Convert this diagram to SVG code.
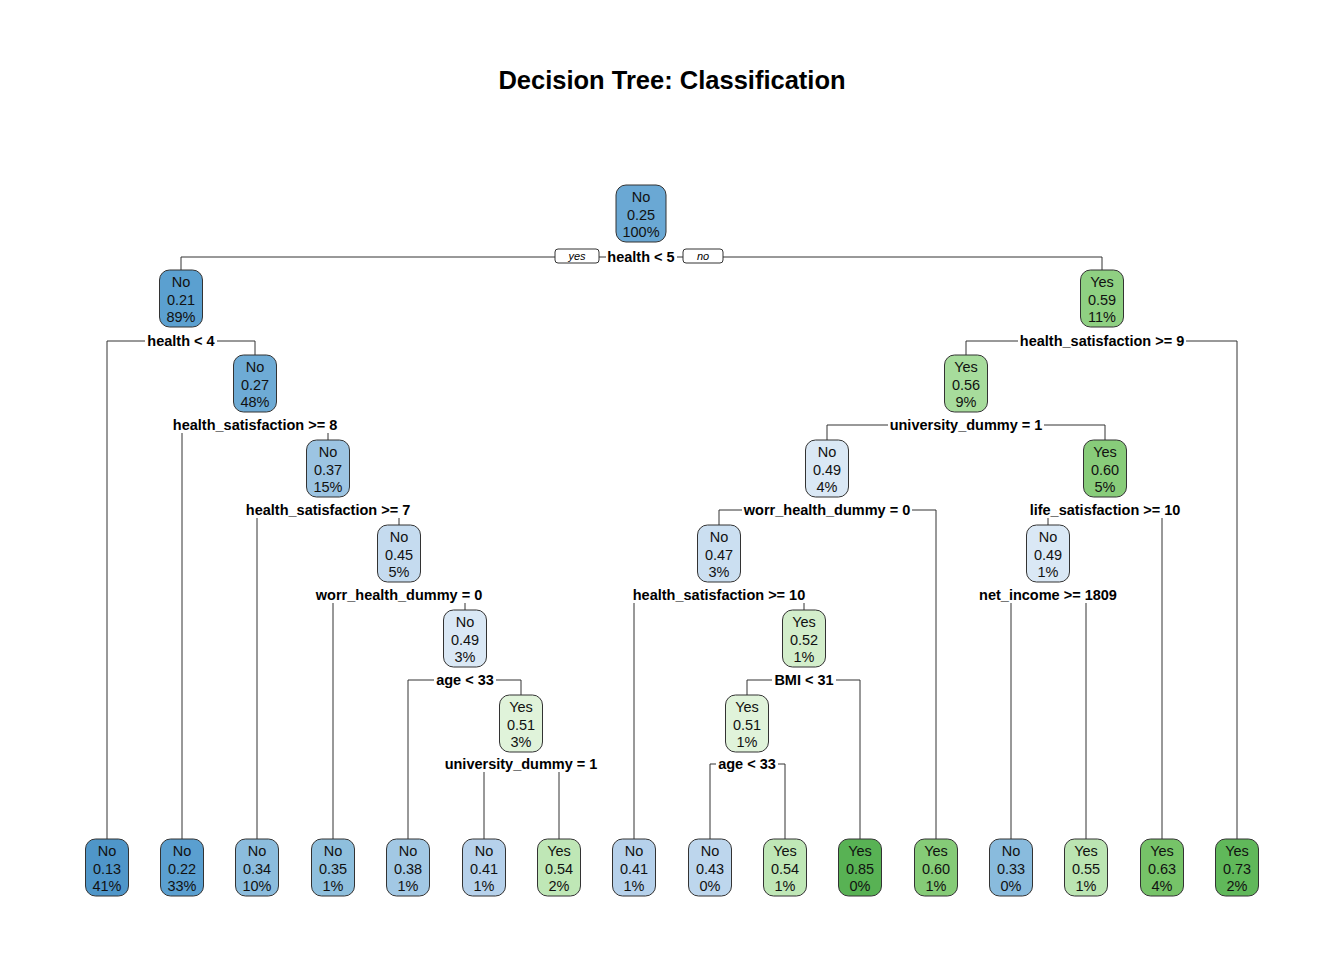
<svg xmlns="http://www.w3.org/2000/svg" width="1344" height="960" viewBox="0 0 1344 960">
<style>
.bg{fill:#ffffff}
.title{font-family:"Liberation Sans",Arial,sans-serif;font-size:25.5px;font-weight:bold;fill:#000;text-anchor:middle}
.box{stroke:#333;stroke-width:1}
.nt{font-family:"Liberation Sans",Arial,sans-serif;font-size:14.5px;fill:#111;text-anchor:middle}
.sl{font-family:"Liberation Sans",Arial,sans-serif;font-size:14.5px;font-weight:bold;fill:#000;text-anchor:middle}
.yn{font-family:"Liberation Sans",Arial,sans-serif;font-size:11px;font-style:italic;fill:#000;text-anchor:middle}
.ynbox{fill:#fff;stroke:#333;stroke-width:1}
.edge{fill:none;stroke:#333;stroke-width:1}
</style>
<rect class="bg" x="0" y="0" width="1344" height="960"/>
<text class="title" x="672" y="89">Decision Tree: Classification</text>

<g id="connectors">
<path class="edge" d="M181,270V257H555M599,257H606M677,257H683M723,257H1102V270"/>
<path class="edge" d="M107,839V341H145M217,341H255V355"/>
<path class="edge" d="M182,433V839M328,433V440"/>
<path class="edge" d="M257,518V839M399,518V525"/>
<path class="edge" d="M333,603V839M465,603V610"/>
<path class="edge" d="M408,839V680H434M496,680H521V695"/>
<path class="edge" d="M484,772V839M559,772V839"/>
<path class="edge" d="M966,355V341H1018M1186,341H1237V839"/>
<path class="edge" d="M827,440V425H888M1044,425H1105V440"/>
<path class="edge" d="M719,525V510H742M912,510H936V839"/>
<path class="edge" d="M634,603V839M804,603V610"/>
<path class="edge" d="M747,695V680H772M836,680H860V839"/>
<path class="edge" d="M710,839V764H716M778,764H785V839"/>
<path class="edge" d="M1048,518V525M1162,518V839"/>
<path class="edge" d="M1011,603V839M1086,603V839"/>
<rect class="ynbox" x="555" y="249" width="44" height="14" rx="3"/>
<text class="yn" x="577" y="260">yes</text>
<rect class="ynbox" x="683" y="249" width="40" height="14" rx="3"/>
<text class="yn" x="703" y="260">no</text>
</g>

<g id="split-labels">
<text class="sl" x="641" y="262">health &lt; 5</text>
<text class="sl" x="181" y="346">health &lt; 4</text>
<text class="sl" x="255" y="430">health_satisfaction &gt;= 8</text>
<text class="sl" x="328" y="515">health_satisfaction &gt;= 7</text>
<text class="sl" x="399" y="600">worr_health_dummy = 0</text>
<text class="sl" x="465" y="685">age &lt; 33</text>
<text class="sl" x="521" y="769">university_dummy = 1</text>
<text class="sl" x="1102" y="346">health_satisfaction &gt;= 9</text>
<text class="sl" x="966" y="430">university_dummy = 1</text>
<text class="sl" x="827" y="515">worr_health_dummy = 0</text>
<text class="sl" x="719" y="600">health_satisfaction &gt;= 10</text>
<text class="sl" x="804" y="685">BMI &lt; 31</text>
<text class="sl" x="747" y="769">age &lt; 33</text>
<text class="sl" x="1105" y="515">life_satisfaction &gt;= 10</text>
<text class="sl" x="1048" y="600">net_income &gt;= 1809</text>
</g>

<g id="node1"><rect class="box" x="616" y="185" width="50" height="57" rx="10" fill="#6aa8d4"/><text class="nt" x="641" y="202">No</text><text class="nt" x="641" y="219.5">0.25</text><text class="nt" x="641" y="237">100%</text></g>
<g id="node2"><rect class="box" x="159.5" y="270" width="43" height="57" rx="10" fill="#5ba0d0"/><text class="nt" x="181" y="287">No</text><text class="nt" x="181" y="304.5">0.21</text><text class="nt" x="181" y="322">89%</text></g>
<g id="node3"><rect class="box" x="1080.5" y="270" width="43" height="57" rx="10" fill="#8fd082"/><text class="nt" x="1102" y="287">Yes</text><text class="nt" x="1102" y="304.5">0.59</text><text class="nt" x="1102" y="322">11%</text></g>
<g id="node4"><rect class="box" x="233.5" y="355" width="43" height="57" rx="10" fill="#6eabd5"/><text class="nt" x="255" y="372">No</text><text class="nt" x="255" y="389.5">0.27</text><text class="nt" x="255" y="407">48%</text></g>
<g id="node5"><rect class="box" x="944.5" y="355" width="43" height="57" rx="10" fill="#a7dc9c"/><text class="nt" x="966" y="372">Yes</text><text class="nt" x="966" y="389.5">0.56</text><text class="nt" x="966" y="407">9%</text></g>
<g id="node6"><rect class="box" x="306.5" y="440" width="43" height="57" rx="10" fill="#9cc4e2"/><text class="nt" x="328" y="457">No</text><text class="nt" x="328" y="474.5">0.37</text><text class="nt" x="328" y="492">15%</text></g>
<g id="node7"><rect class="box" x="805.5" y="440" width="43" height="57" rx="10" fill="#dae8f5"/><text class="nt" x="827" y="457">No</text><text class="nt" x="827" y="474.5">0.49</text><text class="nt" x="827" y="492">4%</text></g>
<g id="node8"><rect class="box" x="1083.5" y="440" width="43" height="57" rx="10" fill="#88cc7a"/><text class="nt" x="1105" y="457">Yes</text><text class="nt" x="1105" y="474.5">0.60</text><text class="nt" x="1105" y="492">5%</text></g>
<g id="node9"><rect class="box" x="377.5" y="525" width="43" height="57" rx="10" fill="#c5dbef"/><text class="nt" x="399" y="542">No</text><text class="nt" x="399" y="559.5">0.45</text><text class="nt" x="399" y="577">5%</text></g>
<g id="node10"><rect class="box" x="697.5" y="525" width="43" height="57" rx="10" fill="#cbdff1"/><text class="nt" x="719" y="542">No</text><text class="nt" x="719" y="559.5">0.47</text><text class="nt" x="719" y="577">3%</text></g>
<g id="node11"><rect class="box" x="1026.5" y="525" width="43" height="57" rx="10" fill="#dae8f5"/><text class="nt" x="1048" y="542">No</text><text class="nt" x="1048" y="559.5">0.49</text><text class="nt" x="1048" y="577">1%</text></g>
<g id="node12"><rect class="box" x="443.5" y="610" width="43" height="57" rx="10" fill="#dae8f5"/><text class="nt" x="465" y="627">No</text><text class="nt" x="465" y="644.5">0.49</text><text class="nt" x="465" y="662">3%</text></g>
<g id="node13"><rect class="box" x="782.5" y="610" width="43" height="57" rx="10" fill="#d3eecb"/><text class="nt" x="804" y="627">Yes</text><text class="nt" x="804" y="644.5">0.52</text><text class="nt" x="804" y="662">1%</text></g>
<g id="node14"><rect class="box" x="499.5" y="695" width="43" height="57" rx="10" fill="#e0f3da"/><text class="nt" x="521" y="712">Yes</text><text class="nt" x="521" y="729.5">0.51</text><text class="nt" x="521" y="747">3%</text></g>
<g id="node15"><rect class="box" x="725.5" y="695" width="43" height="57" rx="10" fill="#e0f3da"/><text class="nt" x="747" y="712">Yes</text><text class="nt" x="747" y="729.5">0.51</text><text class="nt" x="747" y="747">1%</text></g>

<g id="leaf1"><rect class="box" x="85.5" y="839" width="43" height="57" rx="10" fill="#4f96c9"/><text class="nt" x="107" y="856">No</text><text class="nt" x="107" y="873.5">0.13</text><text class="nt" x="107" y="891">41%</text></g>
<g id="leaf2"><rect class="box" x="160.5" y="839" width="43" height="57" rx="10" fill="#5a9fd0"/><text class="nt" x="182" y="856">No</text><text class="nt" x="182" y="873.5">0.22</text><text class="nt" x="182" y="891">33%</text></g>
<g id="leaf3"><rect class="box" x="235.5" y="839" width="43" height="57" rx="10" fill="#8bbcdd"/><text class="nt" x="257" y="856">No</text><text class="nt" x="257" y="873.5">0.34</text><text class="nt" x="257" y="891">10%</text></g>
<g id="leaf4"><rect class="box" x="311.5" y="839" width="43" height="57" rx="10" fill="#8ebfdd"/><text class="nt" x="333" y="856">No</text><text class="nt" x="333" y="873.5">0.35</text><text class="nt" x="333" y="891">1%</text></g>
<g id="leaf5"><rect class="box" x="386.5" y="839" width="43" height="57" rx="10" fill="#a2c8e4"/><text class="nt" x="408" y="856">No</text><text class="nt" x="408" y="873.5">0.38</text><text class="nt" x="408" y="891">1%</text></g>
<g id="leaf6"><rect class="box" x="462.5" y="839" width="43" height="57" rx="10" fill="#b6d1eb"/><text class="nt" x="484" y="856">No</text><text class="nt" x="484" y="873.5">0.41</text><text class="nt" x="484" y="891">1%</text></g>
<g id="leaf7"><rect class="box" x="537.5" y="839" width="43" height="57" rx="10" fill="#bfe7b6"/><text class="nt" x="559" y="856">Yes</text><text class="nt" x="559" y="873.5">0.54</text><text class="nt" x="559" y="891">2%</text></g>
<g id="leaf8"><rect class="box" x="612.5" y="839" width="43" height="57" rx="10" fill="#b6d1eb"/><text class="nt" x="634" y="856">No</text><text class="nt" x="634" y="873.5">0.41</text><text class="nt" x="634" y="891">1%</text></g>
<g id="leaf9"><rect class="box" x="688.5" y="839" width="43" height="57" rx="10" fill="#bdd6ed"/><text class="nt" x="710" y="856">No</text><text class="nt" x="710" y="873.5">0.43</text><text class="nt" x="710" y="891">0%</text></g>
<g id="leaf10"><rect class="box" x="763.5" y="839" width="43" height="57" rx="10" fill="#bfe7b6"/><text class="nt" x="785" y="856">Yes</text><text class="nt" x="785" y="873.5">0.54</text><text class="nt" x="785" y="891">1%</text></g>
<g id="leaf11"><rect class="box" x="838.5" y="839" width="43" height="57" rx="10" fill="#58b254"/><text class="nt" x="860" y="856">Yes</text><text class="nt" x="860" y="873.5">0.85</text><text class="nt" x="860" y="891">0%</text></g>
<g id="leaf12"><rect class="box" x="914.5" y="839" width="43" height="57" rx="10" fill="#85cb77"/><text class="nt" x="936" y="856">Yes</text><text class="nt" x="936" y="873.5">0.60</text><text class="nt" x="936" y="891">1%</text></g>
<g id="leaf13"><rect class="box" x="989.5" y="839" width="43" height="57" rx="10" fill="#89bbdd"/><text class="nt" x="1011" y="856">No</text><text class="nt" x="1011" y="873.5">0.33</text><text class="nt" x="1011" y="891">0%</text></g>
<g id="leaf14"><rect class="box" x="1064.5" y="839" width="43" height="57" rx="10" fill="#bbe5b2"/><text class="nt" x="1086" y="856">Yes</text><text class="nt" x="1086" y="873.5">0.55</text><text class="nt" x="1086" y="891">1%</text></g>
<g id="leaf15"><rect class="box" x="1140.5" y="839" width="43" height="57" rx="10" fill="#76c368"/><text class="nt" x="1162" y="856">Yes</text><text class="nt" x="1162" y="873.5">0.63</text><text class="nt" x="1162" y="891">4%</text></g>
<g id="leaf16"><rect class="box" x="1215.5" y="839" width="43" height="57" rx="10" fill="#60b85a"/><text class="nt" x="1237" y="856">Yes</text><text class="nt" x="1237" y="873.5">0.73</text><text class="nt" x="1237" y="891">2%</text></g>
</svg>
